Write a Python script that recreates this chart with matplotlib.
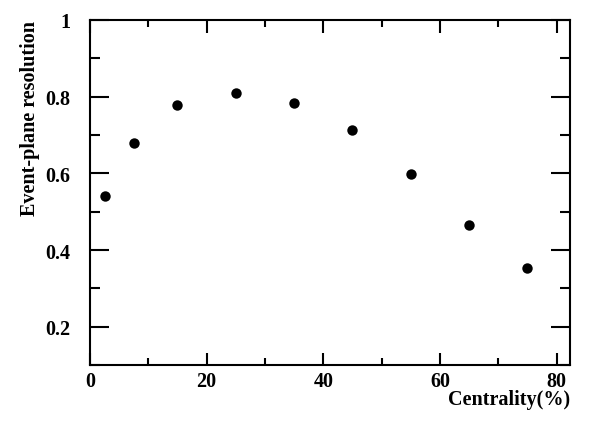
import matplotlib
matplotlib.use("Agg")
import matplotlib.pyplot as plt
from matplotlib.ticker import MultipleLocator

centrality = [2.5, 7.5, 15, 25, 35, 45, 55, 65, 75]
resolution = [0.540, 0.679, 0.779, 0.809, 0.783, 0.713, 0.598, 0.465, 0.352]

plt.rcParams['font.family'] = ['Liberation Serif', 'DejaVu Serif']
plt.rcParams['font.weight'] = 'bold'

fig = plt.figure(figsize=(6, 4.31), dpi=100)
ax = fig.add_axes([0.15, 0.1508, 0.80, 0.8005])
ax.plot(centrality, resolution, 'o', color='black', markersize=7.5, markeredgewidth=0)

ax.set_xlim(0, 82.3)
ax.set_ylim(0.1, 1.0)
ax.xaxis.set_major_locator(MultipleLocator(20))
ax.xaxis.set_minor_locator(MultipleLocator(10))
ax.yaxis.set_minor_locator(MultipleLocator(0.1))
ax.set_yticks([0.2, 0.4, 0.6, 0.8, 1.0])
ax.set_yticklabels(['0.2', '0.4', '0.6', '0.8', '1'])

for s in ax.spines.values():
    s.set_linewidth(1.5)
ax.tick_params(which='both', direction='in', top=True, right=True, width=1.5,
               labelsize=14.5)
ax.tick_params(axis='x', which='major', length=9, pad=4)
ax.tick_params(axis='x', which='minor', length=5)
ax.tick_params(axis='y', which='major', length=14, pad=14)
ax.tick_params(axis='y', which='minor', length=7)
for lab in ax.get_xticklabels() + ax.get_yticklabels():
    lab.set_fontweight('bold')

ax.set_xlabel('Centrality(%)', fontsize=14.5, fontweight='bold', loc='right', labelpad=-1)
ax.set_ylabel('Event-plane resolution', fontsize=14.5, fontweight='bold', loc='top', labelpad=4)

fig.savefig('out.png', dpi=100)
